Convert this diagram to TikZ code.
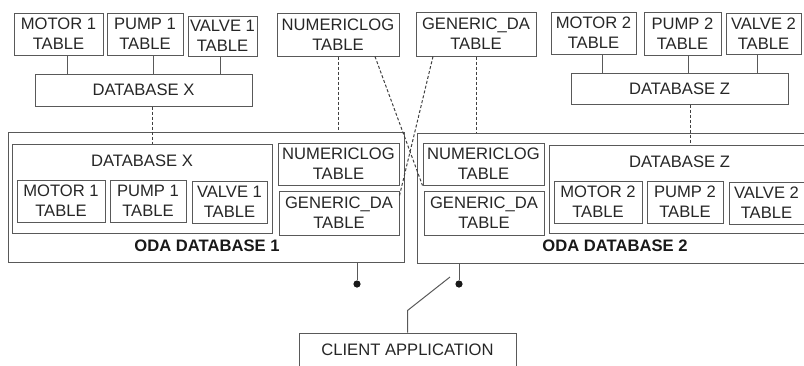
\documentclass[tikz,border=0pt]{standalone}
\usepackage{fontspec}
\setmainfont{Liberation Sans}
\usetikzlibrary{calc, positioning}

\begin{document}
\begin{tikzpicture}[x=0.5pt, y=-0.5pt,
  tbl/.style={draw=black!65, line width=0.5pt, text=black!85, align=center,
    inner sep=0pt, font=\fontsize{8.3}{10}\selectfont},
  sz/.style 2 args={minimum width=#1*0.5pt, minimum height=#2*0.5pt},
  txt/.style={text=black!85, inner sep=0pt, font=\fontsize{8.3}{10}\selectfont},
  oda/.style={text=black!90, inner sep=0pt, font=\fontsize{8.3}{10}\selectfont\bfseries},
  wire/.style={draw=black!65, line width=0.5pt},
  link/.style={draw=black!75, line width=0.5pt, dash pattern=on 1.5pt off 1pt},
  dot/.style={circle, fill=black!90, inner sep=0pt, minimum size=3.6pt}]
  \clip (0,0) rectangle (804,365);

  % source databases
  \node[tbl, sz={89}{42}] (m1t) at (58.5,34) {MOTOR 1\\TABLE};
  \node[tbl, sz={76}{42}] (p1t) at (145,34) {PUMP 1\\TABLE};
  \node[tbl, sz={69}{40}] (v1t) at (222.5,36) {VALVE 1\\TABLE};
  \node[tbl, sz={217}{32}] (dbx) at (143.5,90) {DATABASE X};
  \node[tbl, sz={122}{43}] (nlt) at (338,34.5) {NUMERICLOG\\TABLE};
  \node[tbl, sz={120}{44}] (gdt) at (476,34) {GENERIC\_DA\\TABLE};
  \node[tbl, sz={85}{42}] (m2t) at (593.5,33) {MOTOR 2\\TABLE};
  \node[tbl, sz={77}{43}] (p2t) at (682.5,33.5) {PUMP 2\\TABLE};
  \node[tbl, sz={75}{41}] (v2t) at (763.5,34) {VALVE 2\\TABLE};
  \node[tbl, sz={217}{31}] (dbz) at (679.5,88.5) {DATABASE Z};

  % ODA database 1
  \node[tbl, sz={396}{130}] (oda1) at (206,197) {};
  \node[tbl, sz={260}{89}] (dbx1) at (142,188.5) {};
  \node[txt, below=5.5pt of dbx1.north] (dbx1-l) {DATABASE X};
  \node[tbl, sz={88}{42}] (m1i) at (61,201) {MOTOR 1\\TABLE};
  \node[tbl, sz={76}{42}] (p1i) at (148,201) {PUMP 1\\TABLE};
  \node[tbl, sz={75}{42}] (v1i) at (229.5,202) {VALVE 1\\TABLE};
  \node[tbl, sz={121}{42}] (nl1) at (338.5,164) {NUMERICLOG\\TABLE};
  \node[tbl, sz={120}{44}] (gd1) at (339,213) {GENERIC\_DA\\TABLE};
  \node[oda] (oda1-l) at (207,246) {ODA DATABASE 1};

  % ODA database 2
  \node[tbl, sz={393}{130}] (oda2) at (613.5,198) {};
  \node[tbl, sz={121}{42}] (nl2) at (483.5,164) {NUMERICLOG\\TABLE};
  \node[tbl, sz={120}{44}] (gd2) at (484,213) {GENERIC\_DA\\TABLE};
  \node[tbl, sz={261}{88}] (dbz1) at (679.5,189) {};
  \node[txt, below=5.5pt of dbz1.north] (dbz1-l) {DATABASE Z};
  \node[tbl, sz={88}{42}] (m2i) at (598,202) {MOTOR 2\\TABLE};
  \node[tbl, sz={76}{42}] (p2i) at (685,202) {PUMP 2\\TABLE};
  \node[tbl, sz={75}{42}] (v2i) at (766.5,203) {VALVE 2\\TABLE};
  \node[oda] (oda2-l) at (615,246) {ODA DATABASE 2};

  % client side
  \node[tbl, sz={217}{34}] (client) at (407.5,350) {CLIENT APPLICATION};
  \node[dot] (dot1) at (357,284) {};
  \node[dot] (dot2) at (459,284) {};
  \coordinate (sw) at (450,277);

  % table links
  \foreach \n/\dx in {m1t/8.5, p1t/8, v1t/-2.5} {
    \coordinate (\n-x) at ($(\n.south)+(\dx,0)$);
    \draw[wire] (\n-x) -- (\n-x |- dbx.north);
  }
  \foreach \n/\dx in {m2t/8.5, p2t/5.5, v2t/-6.5} {
    \coordinate (\n-x) at ($(\n.south)+(\dx,0)$);
    \draw[wire] (\n-x) -- (\n-x |- dbz.north);
  }

  % replication links
  \coordinate (dbx-d) at ($(dbx.south)+(9,0)$);
  \draw[link] (dbx-d) -- (dbx-d |- dbx1.north);
  \coordinate (dbz-d) at ($(dbz.south)+(10.5,0)$);
  \draw[link] (dbz-d) -- (dbz-d |- dbz1.north);
  \draw[link] (nlt.south) -- (nlt.south |- oda1.north);
  \coordinate (nlt-d) at ($(nlt.south)+(37,0)$);
  \draw[link] (nlt-d) -- (nl2.south west);
  \coordinate (gdt-d) at ($(gdt.south)+(-43,0)$);
  \coordinate (gd1-d) at ($(gd1.north east)+(0,5)$);
  \draw[link] (gdt-d) -- (gd1-d);
  \draw[link] (gdt.south) -- (gdt.south |- oda2.north);

  % switch
  \draw[wire] (dot1) -- (dot1 |- oda1.south);
  \draw[wire] (dot2) -- (dot2 |- oda2.south);
  \draw[wire] (client.north) -- ++(0,-22) -- (sw);
\end{tikzpicture}
\end{document}
